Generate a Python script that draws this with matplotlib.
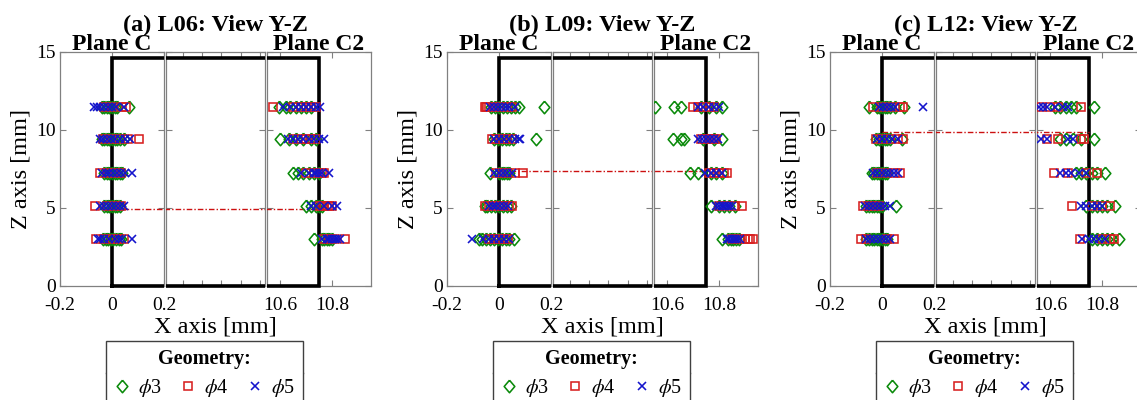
import matplotlib
matplotlib.use('Agg')
import matplotlib.pyplot as plt
from matplotlib.patches import Rectangle
from matplotlib.lines import Line2D
from matplotlib.ticker import FuncFormatter

plt.rcParams['font.family'] = ['Liberation Serif', 'DejaVu Serif']
plt.rcParams['mathtext.fontset'] = 'stix'
plt.rcParams['axes.unicode_minus'] = False

# ---------------- data ----------------
Z_LEVELS = [3.0, 5.15, 7.25, 9.4, 11.5]
PANEL_TITLES = ['(a) L06: View Y-Z', '(b) L09: View Y-Z', '(c) L12: View Y-Z']
SERIES_LABELS = ['$\\phi$3', '$\\phi$4', '$\\phi$5']
RED_LINE_Z = [4.95, 7.35, 9.85]
WALL_X = [0.0, 10.75]
WALL_TOP = 14.6

X_TICKS_LEFT = [-0.2, 0, 0.2]
X_TICKS_MID = [2, 4, 6, 8, 10]
X_TICKS_RIGHT = [10.6, 10.8]
Y_TICKS = [0, 5, 10, 15]

# Panel (a) L06  -- lists per Z level (bottom -> top)
A_C_PHI3 = [[-0.035, -0.025, -0.015, -0.005, 0.005, 0.015, 0.025, 0.035],
            [-0.03, -0.02, -0.01, 0.0, 0.01, 0.02, 0.03],
            [-0.03, -0.02, -0.01, 0.0, 0.01, 0.02, 0.03, 0.04],
            [-0.04, -0.03, -0.02, -0.01, 0.0, 0.01, 0.02, 0.03, 0.045],
            [-0.04, -0.03, -0.02, -0.01, 0.0, 0.01, 0.02, 0.065]]
A_C_PHI4 = [[-0.06, -0.03, 0.0, 0.02, 0.045],
            [-0.064, -0.02, 0.01, 0.035],
            [-0.045, -0.02, 0.01, 0.035],
            [-0.035, 0.0, 0.03, 0.06, 0.105],
            [-0.03, 0.0, 0.04, 0.055]]
A_C_PHI5 = [[-0.055, -0.045, -0.03, -0.01, 0.01, 0.025, 0.04, 0.078],
            [-0.045, -0.03, -0.015, 0.0, 0.015, 0.03, 0.045],
            [-0.04, -0.025, -0.01, 0.005, 0.02, 0.035, 0.05, 0.075],
            [-0.048, -0.035, -0.02, -0.005, 0.01, 0.03, 0.05, 0.07],
            [-0.068, -0.058, -0.045, -0.03, -0.015, 0.0, 0.015, 0.045]]
A_C2_PHI3 = [[10.73, 10.76, 10.77, 10.78, 10.79, 10.80],
             [10.70, 10.72, 10.74, 10.75, 10.76],
             [10.65, 10.67, 10.69, 10.71, 10.73, 10.75],
             [10.60, 10.635, 10.66, 10.69, 10.72, 10.74],
             [10.595, 10.625, 10.64, 10.66, 10.68, 10.70, 10.72]]
A_C2_PHI4 = [[10.77, 10.79, 10.81, 10.85],
             [10.75, 10.76, 10.77, 10.78, 10.79, 10.80],
             [10.70, 10.73, 10.75, 10.76, 10.77],
             [10.65, 10.68, 10.70, 10.72, 10.74],
             [10.573, 10.65, 10.68, 10.70, 10.72, 10.74]]
A_C2_PHI5 = [[10.76, 10.78, 10.79, 10.80, 10.81, 10.82, 10.83],
             [10.72, 10.74, 10.77, 10.80, 10.82],
             [10.68, 10.71, 10.73, 10.74, 10.75, 10.76, 10.79],
             [10.63, 10.65, 10.67, 10.69, 10.71, 10.73, 10.75, 10.77],
             [10.61, 10.64, 10.66, 10.68, 10.70, 10.72, 10.74, 10.755]]

# Panel (b) L09
B_C_PHI3 = [[-0.077, -0.065, -0.05, -0.035, -0.02, -0.005, 0.01, 0.025, 0.04, 0.058],
            [-0.055, -0.045, -0.03, -0.015, 0.0, 0.015, 0.03, 0.045],
            [-0.035, 0.0, 0.01, 0.02, 0.03, 0.04],
            [-0.02, -0.005, 0.01, 0.025, 0.04, 0.055, 0.142],
            [-0.03, -0.015, 0.0, 0.015, 0.03, 0.045, 0.06, 0.075, 0.173]]
B_C_PHI4 = [[-0.04, -0.02, 0.0, 0.02, 0.035],
            [-0.055, -0.04, -0.02, 0.0, 0.02, 0.04, 0.05],
            [-0.01, 0.01, 0.03, 0.06, 0.092],
            [-0.027, -0.01, 0.01, 0.03, 0.05],
            [-0.054, -0.05, -0.045, -0.04, -0.02, 0.0, 0.03, 0.05]]
B_C_PHI5 = [[-0.104, -0.06, -0.04, -0.02, 0.0, 0.02, 0.04],
            [-0.04, -0.025, -0.01, 0.005, 0.02, 0.035],
            [-0.02, 0.0, 0.015, 0.03, 0.05],
            [-0.02, 0.0, 0.02, 0.04, 0.06, 0.075, 0.081],
            [-0.035, -0.02, -0.005, 0.01, 0.025, 0.04, 0.06]]
B_C2_PHI3 = [[10.81, 10.835, 10.845, 10.855, 10.865, 10.875],
             [10.77, 10.80, 10.82, 10.84, 10.86],
             [10.69, 10.72, 10.77, 10.79, 10.81],
             [10.623, 10.655, 10.665, 10.74, 10.78, 10.81],
             [10.552, 10.627, 10.654, 10.73, 10.76, 10.79, 10.81]]
B_C2_PHI4 = [[10.85, 10.88, 10.90, 10.91, 10.92, 10.93],
             [10.80, 10.83, 10.86, 10.89],
             [10.76, 10.78, 10.80, 10.82, 10.83],
             [10.73, 10.745, 10.76, 10.77, 10.78, 10.79],
             [10.70, 10.72, 10.74, 10.76, 10.78]]
B_C2_PHI5 = [[10.83, 10.84, 10.85, 10.86, 10.87, 10.88],
             [10.79, 10.80, 10.81, 10.82, 10.83, 10.84, 10.85],
             [10.745, 10.77, 10.79, 10.81],
             [10.72, 10.735, 10.75, 10.765, 10.78, 10.795],
             [10.72, 10.74, 10.76, 10.78, 10.80]]

# Panel (c) L12
C_C_PHI3 = [[-0.06, -0.05, -0.04, -0.03, -0.02, -0.01, 0.0, 0.01, 0.02],
            [-0.06, -0.05, -0.04, -0.03, -0.02, -0.01, 0.0, 0.054],
            [-0.04, -0.03, -0.02, -0.01, 0.0, 0.01, 0.02],
            [-0.025, -0.01, 0.0, 0.01, 0.02, 0.03, 0.075],
            [-0.05, -0.02, -0.01, 0.0, 0.01, 0.02, 0.03, 0.05, 0.085]]
C_C_PHI4 = [[-0.081, -0.06, 0.02, 0.046],
            [-0.073, -0.05, -0.03, -0.01],
            [-0.02, 0.02, 0.05, 0.07],
            [-0.025, 0.0, 0.03, 0.06, 0.08],
            [-0.035, 0.0, 0.04, 0.07, 0.08]]
C_C_PHI5 = [[-0.06, -0.045, -0.03, -0.015, 0.0, 0.015, 0.03],
            [-0.065, -0.05, -0.035, -0.02, -0.005, 0.01, 0.03],
            [-0.035, -0.02, 0.0, 0.015, 0.03, 0.045, 0.06],
            [-0.02, 0.0, 0.02, 0.04, 0.06],
            [-0.01, 0.005, 0.02, 0.035, 0.05, 0.158]]
C_C2_PHI3 = [[10.76, 10.78, 10.80, 10.82, 10.84, 10.865],
             [10.74, 10.76, 10.78, 10.80, 10.82, 10.85],
             [10.70, 10.72, 10.74, 10.76, 10.78, 10.81],
             [10.64, 10.66, 10.69, 10.72, 10.77],
             [10.62, 10.64, 10.66, 10.68, 10.70, 10.77]]
C_C2_PHI4 = [[10.715, 10.80, 10.83, 10.845],
             [10.685, 10.76, 10.80, 10.83],
             [10.615, 10.67, 10.74, 10.78],
             [10.59, 10.63, 10.72, 10.73],
             [10.565, 10.60, 10.63, 10.72]]
C_C2_PHI5 = [[10.725, 10.75, 10.77, 10.79, 10.81],
             [10.72, 10.74, 10.76, 10.78, 10.80],
             [10.64, 10.66, 10.68, 10.71, 10.74],
             [10.565, 10.59, 10.67, 10.69],
             [10.557, 10.575, 10.59, 10.62, 10.65, 10.67]]

PANELS = [
    [(A_C_PHI3, A_C2_PHI3), (A_C_PHI4, A_C2_PHI4), (A_C_PHI5, A_C2_PHI5)],
    [(B_C_PHI3, B_C2_PHI3), (B_C_PHI4, B_C2_PHI4), (B_C_PHI5, B_C2_PHI5)],
    [(C_C_PHI3, C_C2_PHI3), (C_C_PHI4, C_C2_PHI4), (C_C_PHI5, C_C2_PHI5)],
]

# ---------------- style ----------------
COLORS = ['#0a8a0a', '#d82020', '#1414cc']
DIAMOND = [(0, 1), (0.85, 0), (0, -1), (-0.85, 0), (0, 1)]
MARKERS = [DIAMOND, 's', 'x']
MSIZES = [9, 6, 5.5]

W, H = 1137, 400
fig = plt.figure(figsize=(W / 100, H / 100), dpi=100)


def fx(px):
    return px / W


def fy(py):
    return 1 - py / H


AX_TOP, AX_BOT = 52, 286
PANEL_LEFTS = [60, 447, 830]
SUB_W = [104, 99, 104]
GAP = 2
SPINE_C = '0.5'

fmt = FuncFormatter(lambda v, p: f'{v:g}')


def flatten(levels_lists):
    xv, zv = [], []
    for lev, pts in zip(Z_LEVELS, levels_lists):
        xv += pts
        zv += [lev] * len(pts)
    return xv, zv


for pi, left in enumerate(PANEL_LEFTS):
    xs0 = left
    axes = []
    for si in range(3):
        ax = fig.add_axes([fx(xs0), fy(AX_BOT), SUB_W[si] / W, (AX_BOT - AX_TOP) / H])
        axes.append((ax, xs0, xs0 + SUB_W[si]))
        xs0 += SUB_W[si] + GAP
    axL, axM, axR = axes[0][0], axes[1][0], axes[2][0]
    axL.set_xlim(-0.2, 0.2)
    axM.set_xlim(0.2, 10.55)
    axR.set_xlim(10.55, 10.95)
    axL.set_xticks(X_TICKS_LEFT)
    axM.set_xticks(X_TICKS_MID)
    axR.set_xticks(X_TICKS_RIGHT)
    handles = []
    for k, (ax, _, _) in enumerate(axes):
        ax.set_ylim(0, 15)
        ax.set_yticks(Y_TICKS)
        ax.xaxis.set_major_formatter(fmt)
        ax.tick_params(direction='in', top=True, right=True, length=4, width=0.8,
                       color=SPINE_C, labelsize=14)
        ax.tick_params(axis='x', pad=8)
        ax.tick_params(axis='y', pad=3)
        for s in ax.spines.values():
            s.set_color(SPINE_C)
            s.set_linewidth(0.9)
        if k != 0:
            ax.tick_params(axis='y', labelleft=False)
        if k == 1:
            ax.tick_params(axis='x', labelbottom=False)
        clip = Rectangle((0, -0.05), 1, 1.1, transform=ax.transAxes, visible=False)
        ax.add_patch(clip)
        # wall outline
        wl, = ax.plot([WALL_X[0], WALL_X[0], WALL_X[1], WALL_X[1], WALL_X[0]],
                      [0, WALL_TOP, WALL_TOP, 0, 0], color='k', lw=2.6, zorder=3,
                      solid_joinstyle='miter')
        wl.set_clip_path(clip)
        # red reference line
        ax.plot(WALL_X, [RED_LINE_Z[pi]] * 2, color='#cc1010', lw=1.0,
                ls=(0, (4, 1.5, 1, 1.5)), zorder=4)
        if k == 1:
            continue
        # markers: plane C in left axes, plane C2 in right axes
        for si, pair in enumerate(PANELS[pi]):
            xv, zv = flatten(pair[0] if k == 0 else pair[1])
            h, = ax.plot(xv, zv, ls='none', marker=MARKERS[si], ms=MSIZES[si],
                         mfc='none', mec=COLORS[si], mew=1.15, zorder=5)
            if k == 0:
                handles.append(h)
    pc = (left + xs0 - GAP) / 2
    # titles and labels
    fig.text(fx(pc), fy(31), PANEL_TITLES[pi], ha='center', va='baseline',
             fontsize=17.5, fontweight='bold')
    fig.text(fx((axes[0][1] + axes[0][2]) / 2), fy(50), 'Plane C', ha='center',
             va='baseline', fontsize=17, fontweight='bold')
    fig.text(fx((axes[2][1] + axes[2][2]) / 2), fy(50), 'Plane C2', ha='center',
             va='baseline', fontsize=17, fontweight='bold')
    fig.text(fx(pc), fy(327), 'X axis [mm]', ha='center', va='center', fontsize=17.5)
    fig.text(fx(left - 39), fy((AX_TOP + AX_BOT) / 2), 'Z axis [mm]', ha='center',
             va='center', rotation=90, fontsize=17.5)
    leg = fig.legend(handles, SERIES_LABELS, loc='upper center',
                     bbox_to_anchor=(fx(pc - 11), fy(341)), ncol=3,
                     title='Geometry:',
                     title_fontproperties={'weight': 'bold', 'size': 14.5},
                     fontsize=14.5, frameon=True, fancybox=False, edgecolor='0.25',
                     framealpha=1, borderpad=0.4, handlelength=0.8, handletextpad=0.4,
                     columnspacing=0.9, labelspacing=0.4, borderaxespad=0)
    leg.get_frame().set_linewidth(1.0)

fig.canvas.draw()
renderer = fig.canvas.get_renderer()
inv = fig.transFigure.inverted()
for leg in fig.legends:
    bb = leg.get_frame().get_window_extent(renderer)
    tb = leg.get_title().get_window_extent(renderer)
    ysep = tb.y0 - 0.2 * 14.5 * 100 / 72
    (x0, y0) = inv.transform((bb.x0, ysep))
    (x1, _) = inv.transform((bb.x1, ysep))
    fig.add_artist(Line2D([x0, x1], [y0, y0], transform=fig.transFigure,
                          color='0.25', lw=1.0))

fig.savefig('out.png', dpi=100)
